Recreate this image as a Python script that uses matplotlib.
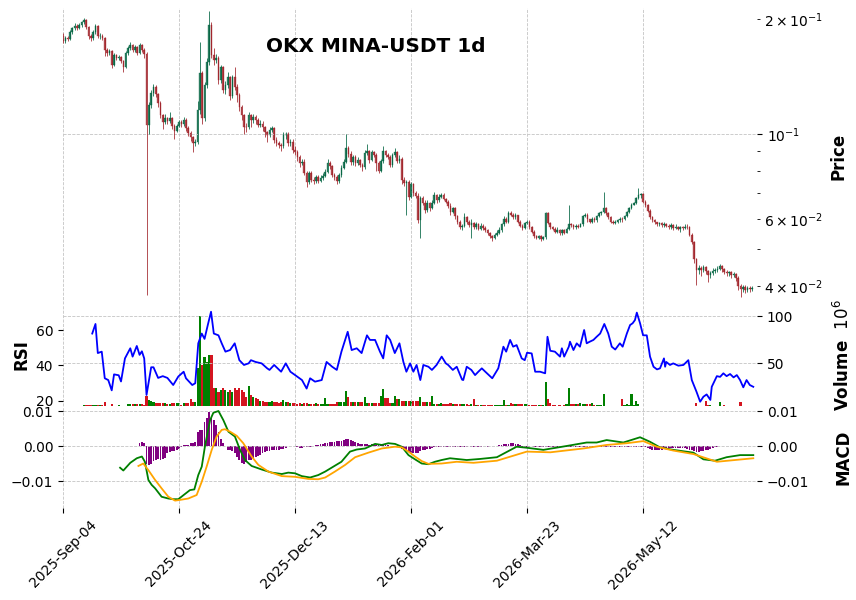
import datetime as dt
import numpy as np
import matplotlib
matplotlib.use("Agg")
import matplotlib.pyplot as plt

# ---------------- data ----------------
start_date = dt.date(2025, 9, 4)
first_open = 0.181

close = [
0.1750,0.1780,0.1770,0.1850,0.1890,0.1920,0.1890,0.1930,0.1960,0.1990,
0.1910,0.1800,0.1780,0.1850,0.1920,0.1800,0.1810,0.1780,0.1660,0.1630,
0.1650,0.1520,0.1610,0.1580,0.1590,0.1550,0.1500,0.1630,0.1680,0.1710,
0.1660,0.1690,0.1630,0.1710,0.1660,0.1620,0.1056,0.1190,0.1280,0.1330,
0.1270,0.1205,0.1120,0.1075,0.1100,0.1080,0.1100,0.1050,0.1020,0.1050,
0.1075,0.1060,0.1090,0.1037,0.1006,0.0980,0.0945,0.0955,0.1156,0.1444,
0.1100,0.1340,0.1546,0.1930,0.1610,0.1560,0.1580,0.1385,0.1497,0.1304,
0.1340,0.1410,0.1260,0.1410,0.1328,0.1265,0.1177,0.1120,0.1043,0.1040,
0.1120,0.1090,0.1105,0.1088,0.1056,0.1065,0.1040,0.1010,0.0994,0.1024,
0.1035,0.0964,0.0947,0.0936,0.0930,0.0994,0.1000,0.0947,0.0955,0.0908,
0.0897,0.0870,0.0839,0.0847,0.0791,0.0749,0.0790,0.0758,0.0752,0.0770,
0.0755,0.0768,0.0775,0.0796,0.0839,0.0825,0.0780,0.0772,0.0753,0.0780,
0.0815,0.0845,0.0919,0.0885,0.0845,0.0870,0.0840,0.0855,0.0830,0.0820,
0.0892,0.0900,0.0855,0.0895,0.0880,0.0840,0.0800,0.0850,0.0900,0.0880,
0.0870,0.0830,0.0880,0.0895,0.0850,0.0860,0.0760,0.0745,0.0750,0.0684,
0.0740,0.0700,0.0690,0.0596,0.0680,0.0660,0.0633,0.0660,0.0640,0.0660,
0.0692,0.0670,0.0685,0.0692,0.0675,0.0665,0.0648,0.0625,0.0640,0.0610,
0.0590,0.0571,0.0575,0.0606,0.0590,0.0578,0.0585,0.0570,0.0582,0.0565,
0.0575,0.0568,0.0560,0.0550,0.0540,0.0534,0.0545,0.0552,0.0560,0.0580,
0.0600,0.0590,0.0621,0.0615,0.0605,0.0612,0.0590,0.0575,0.0568,0.0585,
0.0590,0.0570,0.0555,0.0540,0.0534,0.0540,0.0532,0.0536,0.0621,0.0585,
0.0570,0.0565,0.0555,0.0562,0.0550,0.0560,0.0552,0.0565,0.0580,0.0578,
0.0570,0.0575,0.0572,0.0580,0.0610,0.0615,0.0598,0.0590,0.0600,0.0595,
0.0610,0.0620,0.0625,0.0640,0.0620,0.0605,0.0590,0.0585,0.0590,0.0595,
0.0600,0.0598,0.0610,0.0625,0.0640,0.0652,0.0660,0.0680,0.0692,0.0695,
0.0665,0.0652,0.0630,0.0606,0.0595,0.0588,0.0580,0.0585,0.0578,0.0583,
0.0575,0.0570,0.0578,0.0568,0.0572,0.0565,0.0570,0.0568,0.0572,0.0570,
0.0545,0.0520,0.0470,0.0440,0.0445,0.0440,0.0448,0.0438,0.0428,0.0432,
0.0438,0.0440,0.0444,0.0450,0.0442,0.0436,0.0432,0.0434,0.0428,0.0430,
0.0420,0.0400,0.0393,0.0398,0.0390,0.0396,0.0392,0.0395]

high = [
0.184,0.181,0.180,0.187,0.191,0.195,0.194,0.195,0.198,0.201,
0.200,0.192,0.183,0.187,0.194,0.193,0.184,0.183,0.179,0.168,
0.167,0.166,0.163,0.162,0.161,0.160,0.156,0.165,0.170,0.174,
0.172,0.171,0.170,0.173,0.172,0.168,0.164,0.121,0.130,0.135,
0.134,0.128,0.122,0.113,0.113,0.111,0.114,0.111,0.106,0.106,
0.109,0.109,0.111,0.110,0.105,0.102,0.099,0.097,0.122,0.174,
0.146,0.137,0.158,0.210,0.196,0.168,0.162,0.160,0.152,0.151,
0.138,0.145,0.142,0.143,0.150,0.135,0.128,0.119,0.113,0.107,
0.114,0.113,0.113,0.112,0.110,0.109,0.108,0.105,0.102,0.104,
0.105,0.104,0.098,0.096,0.095,0.101,0.1015,0.101,0.097,0.097,
0.093,0.091,0.088,0.086,0.086,0.080,0.080,0.080,0.077,0.078,
0.078,0.078,0.079,0.081,0.086,0.085,0.083,0.079,0.078,0.079,
0.083,0.086,0.100,0.093,0.090,0.088,0.088,0.087,0.086,0.084,
0.091,0.094,0.091,0.091,0.090,0.089,0.085,0.086,0.093,0.091,
0.089,0.088,0.089,0.092,0.090,0.088,0.087,0.077,0.076,0.076,
0.075,0.0745,0.071,0.070,0.069,0.069,0.067,0.067,0.0665,0.067,
0.0705,0.0695,0.0695,0.070,0.070,0.068,0.067,0.066,0.0645,0.0645,
0.0615,0.0595,0.058,0.062,0.061,0.0595,0.060,0.059,0.059,0.0585,
0.0585,0.058,0.0575,0.0565,0.0555,0.0545,0.055,0.056,0.057,0.0585,
0.061,0.0605,0.063,0.063,0.062,0.062,0.0615,0.0595,0.058,0.059,
0.0595,0.0595,0.0575,0.056,0.0545,0.0545,0.0545,0.054,0.0625,0.0625,
0.059,0.0575,0.057,0.057,0.0565,0.0565,0.0565,0.057,0.065,0.0585,
0.058,0.058,0.058,0.0585,0.0615,0.062,0.062,0.060,0.0605,0.0605,
0.0615,0.0625,0.063,0.0705,0.0645,0.0625,0.061,0.0595,0.0595,0.060,
0.0605,0.0605,0.0615,0.063,0.0645,0.066,0.0665,0.0685,0.0722,0.070,
0.070,0.067,0.0655,0.0635,0.061,0.060,0.059,0.059,0.059,0.059,
0.0585,0.058,0.0585,0.058,0.058,0.0575,0.0575,0.0575,0.058,0.058,
0.0575,0.055,0.0525,0.0475,0.0455,0.045,0.0455,0.0452,0.044,0.0438,
0.0445,0.0445,0.045,0.0458,0.0455,0.0447,0.044,0.0438,0.0437,0.0435,
0.0432,0.0425,0.0405,0.0403,0.0402,0.040,0.040,0.0399]

low = [
0.173,0.173,0.175,0.176,0.183,0.187,0.187,0.188,0.191,0.194,
0.188,0.177,0.175,0.176,0.183,0.178,0.177,0.176,0.160,0.160,
0.161,0.149,0.151,0.156,0.156,0.153,0.145,0.149,0.161,0.166,
0.164,0.164,0.161,0.162,0.164,0.158,0.0379,0.100,0.117,0.126,
0.125,0.118,0.110,0.103,0.106,0.106,0.107,0.103,0.097,0.101,
0.104,0.104,0.105,0.102,0.099,0.096,0.0897,0.093,0.094,0.113,
0.106,0.108,0.132,0.152,0.158,0.152,0.153,0.135,0.136,0.128,
0.127,0.132,0.123,0.124,0.130,0.121,0.115,0.109,0.100,0.101,
0.103,0.104,0.107,0.106,0.104,0.104,0.102,0.098,0.0955,0.098,
0.101,0.095,0.093,0.092,0.090,0.092,0.097,0.093,0.093,0.089,
0.088,0.085,0.082,0.083,0.078,0.0725,0.074,0.075,0.074,0.0745,
0.0745,0.075,0.076,0.077,0.079,0.081,0.077,0.076,0.074,0.0745,
0.077,0.081,0.084,0.087,0.083,0.083,0.0825,0.083,0.082,0.080,
0.081,0.088,0.084,0.085,0.087,0.080,0.079,0.0795,0.084,0.087,
0.086,0.082,0.082,0.087,0.084,0.084,0.074,0.073,0.0614,0.067,
0.068,0.069,0.068,0.0585,0.0534,0.065,0.062,0.0625,0.063,0.0635,
0.0655,0.066,0.0665,0.068,0.067,0.066,0.064,0.0615,0.062,0.060,
0.058,0.0565,0.056,0.057,0.058,0.057,0.0535,0.0565,0.0565,0.056,
0.056,0.056,0.0555,0.0545,0.0535,0.0525,0.053,0.054,0.0548,0.0555,
0.0575,0.0585,0.0585,0.061,0.060,0.060,0.0585,0.057,0.056,0.0565,
0.058,0.0565,0.055,0.0535,0.053,0.053,0.0525,0.0528,0.053,0.058,
0.0565,0.056,0.055,0.055,0.0545,0.0545,0.0548,0.055,0.056,0.057,
0.0565,0.0565,0.0568,0.057,0.0575,0.0605,0.059,0.0585,0.0585,0.059,
0.059,0.0605,0.0615,0.062,0.0615,0.060,0.0585,0.058,0.058,0.0585,
0.059,0.059,0.0595,0.0605,0.062,0.0635,0.065,0.0655,0.0675,0.068,
0.066,0.0645,0.0625,0.060,0.059,0.058,0.0575,0.0575,0.057,0.057,
0.057,0.0565,0.0565,0.056,0.0565,0.056,0.0555,0.056,0.0565,0.0565,
0.054,0.0515,0.046,0.0403,0.043,0.0425,0.0435,0.043,0.041,0.042,
0.0428,0.0432,0.0435,0.044,0.0435,0.043,0.0425,0.0426,0.042,0.0422,
0.0412,0.039,0.0374,0.0385,0.0383,0.0385,0.0386,0.0387]

# volume in millions
volume_m = [
3,3,3,3,3,3,3,3,3,5,
5,5,5,5,5,5,5,5,8.5,4.5,
4.5,6.4,4,4,5.5,4,4,4,6.5,6.5,
6.5,6.5,6.5,6.5,6.5,5,15,10.6,10,8,
7.8,7.8,7.8,7.8,7.8,6.4,6.4,7,7,7,
7,5,7.5,7.5,7.5,11.3,8,9,44.7,100,
47.9,56.7,51.4,58.5,58.5,23.9,23,19.5,21,23,
21,19.5,21,19.5,23,21,23,21,19,14,
26,16,14,12.4,11.3,10,10,9,8.5,8.5,
10,9,8,7.5,8,10.6,9,8,7,7,
7,6.5,7,6,7,7.5,6.5,6,6,7,
6,6.5,6,12.4,6,6,6,6,8,8,
8,8,20,13.5,8,9,8,9,8,8,
13.5,7,7,7,7,7,7,15,22,13,
13,7,7,15,12,12,10,10,10,10,
10,10,10,10,13.5,8,8,8,8,15,
6.5,6.5,6,7,6,6.5,6,7,6,6.5,
6,6.5,6,6,6,5,6,11.7,5,5,
5,5,5,5,5,5,5,5,5,5,
10.6,5,5,7.8,6.4,6.4,6.4,6.4,6.4,6.4,
6.4,5,5,5,5,5,5,5,30,11.7,
7.8,5,5,3,5,3,5,6.4,23,6,
6,6,6,7.8,6,6,6,6,7.8,5,
5,5,5,16.7,4.5,4.5,4.5,4.5,4.5,4.5,
4.5,11.7,5,6.4,5,16.7,5,9.6,6.4,3,
3,3,3,3,3,3,3,3,3,3,
3,4.6,3,3,3,3,4.6,3,3,3,
3,3,3,7,4.5,4.5,4.5,10,4.8,4.8,
3,3,3,8.5,4.5,4.8,3,3,3,3,
3,3,8.5,4.5,4.5,4.5,4.5,4.5]

rsi_idx = [12.6,14,15,16.7,18,19.5,21,22,24,25,26.7,29,30,31.8,33,34,35,36,38,39,41,43,45,47.5,49.7,52,53,55.7,57,58.3,59.8,61,62.4,63.8,65,67,68.4,70,72,74,76,78,80,81,83,85.6,88,89,91,94,96,98,100,103,105,106.5,108.6,111.5,113.6,116,118,120,122.7,124.4,126.6,128.7,131,132.3,134.5,136.6,138,139.5,141,143,145,146.7,148,149.6,151,152.4,154,155.3,157.5,159,161,163.2,165,166,168,169.7,172,172.5,174,176,177.6,179,180.5,182,185,187.6,189.8,191,192.7,194,195.5,197.7,199,200,202,203.5,205.6,207.8,208.8,210,212,214.2,215,216,218,218.5,220,221.4,222.8,224.6,225.7,227,228.6,230,231.5,233.3,235,236.5,238,240,241.2,243,244.4,245.5,246.5,247.3,248.7,250,251.6,253,254.5,256,257.3,259,259.5,260,261.6,263,265.2,267.4,269.5,271,273,274.6,276,277.4,279,279.6,281.8,283.2,284.6,286,287.5,289,290.4,291.8,293.2,294.6,296,297.5]
rsi_val = [58,63.4,47,47.8,32.8,31.8,26,35,34.5,31,44,49.7,45,51,46,48,44,23.4,39,39,33,34,33,29,33.8,36.5,32.8,29,30,52.5,58,55,62.8,70.3,58,57,52.5,47.8,48.7,52.5,43,40.3,41.2,43,42,41.2,38.4,37.5,40.3,36.5,41.2,36.5,34.6,31.8,27,32.8,30.9,31.8,42,39.3,37.5,47.8,59,48.7,49.7,47,57,54.4,54.4,47.8,44,57,54.4,47,52.5,42,36.5,41.2,36.5,40.3,31.8,40.3,39.3,37.5,40.3,45,41.2,40.3,37.5,39.3,32,31.8,39.3,37.5,34.6,36.5,38.4,36.5,32.8,38.4,50.6,47.8,54.4,50.6,51.5,44,43,47.2,46.8,36.5,36.5,35.6,56.2,48.3,47.8,45,49.7,45,50.6,53.4,48.7,52.5,50.6,60,52.5,53.4,54.4,56.2,58,63.4,58,50.6,49,52.5,50.6,58,62.8,63.8,65.6,69.8,63.8,57,57,45,39.3,37.8,38.4,44,39.3,42,40.3,41.2,39.9,40.3,43,31.8,25.3,19.6,22.4,23.7,20.6,28,34,33.6,35.6,34,35.2,33.3,34.6,31.8,27.7,31.8,29,28]

macd_idx = [24.6,26,29,31.8,34,35.3,36.8,38.2,39.7,42.5,45.4,47.6,49.7,52,54.7,56.6,58.3,59.8,61.2,62.4,63.4,64.8,67,69.1,71.3,74.1,76.3,78.4,81.3,85.6,90,94.3,97.1,100,102.9,106.5,110,113,116.5,120,123.7,126.6,130.2,134.5,137.4,140.2,143.1,146,148.9,151.7,154.6,157.5,160.3,163.2,166.8,174,179.7,187,195.5,199.9,207,217,225.7,230,234.3,241.5,248.7,253,257.3,263,271.7,276,281,286,291.8,297.5]
macd_val = [-0.0062,-0.0070,-0.0048,-0.0035,-0.0030,-0.0045,-0.0097,-0.0111,-0.0121,-0.0145,-0.0150,-0.0152,-0.0152,-0.0140,-0.0126,-0.0124,-0.0083,-0.0059,0.0,0.0041,0.0074,0.0095,0.0100,0.0074,0.0041,0.0027,-0.0011,-0.0040,-0.0057,-0.0067,-0.0076,-0.0080,-0.0076,-0.0078,-0.0086,-0.0090,-0.0083,-0.0073,-0.0059,-0.0045,-0.0016,-0.0010,-0.0007,0.0006,0.0003,0.0008,0.0006,-0.0002,-0.0026,-0.0038,-0.0050,-0.0052,-0.0045,-0.0040,-0.0035,-0.0040,-0.0037,-0.0032,-0.0002,-0.0005,-0.0011,0.0,0.0010,0.0010,0.0017,0.0010,0.0025,0.0012,-0.0004,-0.0011,-0.0019,-0.0038,-0.0042,-0.0032,-0.0026,-0.0026]

signal_idx = [32.5,34.6,36.8,39.7,42.5,45.4,48.3,50.4,54,57.6,59.8,61.9,64.1,66.2,68.4,69.8,72,74.9,77.7,81.3,84.2,88.5,94.3,100,105.7,110,113,117.2,121.6,125.9,131.6,137.4,143.1,146,148.9,151.7,154.6,157.5,163.2,169.7,176.9,187,199.9,210,224.3,234.3,243,250.1,255.9,263,271.7,281.8,297.5]
signal_val = [-0.0057,-0.0050,-0.0069,-0.0097,-0.0121,-0.0145,-0.0156,-0.0154,-0.0150,-0.0140,-0.0102,-0.0059,-0.0011,0.0027,0.0046,0.0048,0.0041,0.0029,0.0008,-0.0030,-0.0054,-0.0073,-0.0086,-0.0088,-0.0094,-0.0095,-0.0090,-0.0073,-0.0054,-0.0032,-0.0019,-0.0007,-0.0002,-0.0004,-0.0016,-0.0030,-0.0043,-0.0051,-0.0050,-0.0045,-0.0048,-0.0042,-0.0016,-0.0018,-0.0007,0.0003,0.0008,0.0014,-0.0002,-0.0013,-0.0023,-0.0045,-0.0035]

hist_start = 33
hist = [
.001,.0012,.0008,-.005,-.0055,-.005,-.0042,
-.004,-.0038,-.004,-.0036,-.0033,-.002,-.0018,-.0015,-.0013,-.001,
-.0008,-.0003,.0002,.0003,.0003,.0008,.001,.0012,.0041,.0046,
.0046,.007,.008,.0097,.0084,.0075,.006,.004,.002,.0008,
0,-.001,-.0012,-.0015,-.002,-.003,-.004,-.0048,-.005,-.0045,
-.004,-.004,-.0035,-.003,-.0028,-.0025,-.002,-.0018,-.0015,-.0015,
-.0012,-.0012,-.001,-.001,-.0008,-.0008,-.0005,0,0,0,
0,-.0003,-.0005,-.0005,-.0004,-.0003,-.0002,-.0002,0,.0002,
.0004,.0005,.0006,.0008,.001,.0011,.0012,.0012,.0013,.0014,
.0015,.0016,.002,.002,.0018,.0015,.0012,.0009,.0007,.0006,
.0006,.0005,.0004,.0005,.0005,.0004,.0004,.0005,.0004,.0003,
.0003,.0001,0,0,-.0002,-.0004,-.0008,-.0012,-.0015,-.0018,
-.002,-.0021,-.002,-.0019,-.0015,-.0012,-.001,-.0009,-.0008,-.0005,
-.0003,-.0002,-.0002,-.0003,-.0002,-.0002,-.0003,-.0002,-.0002,-.0003,
-.0002,-.0002,-.0003,-.0002,-.0002,-.0001,-.0002,-.0002,-.0001,-.0002,
-.0002,-.0001,-.0001,-.0002,-.0001,-.0001,-.0001,0,.0002,.0003,
.0005,.0006,.0007,.0008,.0008,.0007,.0005,.0003,-.0002,-.0003,
-.0003,-.0002,-.0001,-.0002,-.0002,-.0003,-.0002,-.0002,-.0003,-.0002,
-.0002,-.0003,-.0002,-.0002,-.0003,-.0002,-.0002,-.0003,-.0002,-.0002,
-.0003,-.0002,-.0002,-.0003,-.0002,-.0002,-.0003,-.0002,-.0002,-.0003,
-.0002,-.0002,-.0003,-.0002,-.0002,-.0003,-.0002,-.0002,-.0003,-.0002,
-.0002,-.0003,-.0002,-.0002,-.0003,-.0002,-.0002,-.0003,-.0002,-.0002,
-.0002,-.0003,-.0005,-.0008,-.001,-.0012,-.0012,-.0011,-.001,-.0009,
-.0008,-.0007,-.0007,-.0007,-.0007,-.0007,-.0007,-.0007,-.0007,-.0008,
-.001,-.0012,-.0014,-.0016,-.0016,-.0015,-.0014,-.0012,-.001,-.0008,
-.0006,-.0004,-.0003,-.0001,-.0001,.0001,-.0001,-.0001,.0001,-.0001,
-.0001,.0001,-.0001,-.0001,.0001,-.0001,-.0001,-.0001]

tick_step = 50

# ---------------- figure ----------------
n = len(close)
x = np.arange(n)
c = np.array(close)
o = np.array([first_open] + close[:-1])
hi = np.maximum(np.array(high), np.maximum(o, c))
lo = np.minimum(np.array(low), np.minimum(o, c))
up = c >= o

UP, DN = "#006340", "#A02128"
VUP, VDN = "#008000", "#d41520"
GRID = dict(linestyle="--", color="#c4c4c4", linewidth=0.6)

fig = plt.figure(figsize=(8.56, 6.0), dpi=100)
L, W = 63 / 856, 694 / 856


def rect(top, bot):
    return [L, 1 - bot / 600, W, (bot - top) / 600]


ax_p = fig.add_axes(rect(8, 304))
ax_v = fig.add_axes(rect(304, 406), sharex=ax_p)
ax_m = fig.add_axes(rect(406, 508), sharex=ax_p)

# --- price panel ---
ccol = np.where(up, UP, DN)
ax_p.vlines(x, lo, hi, colors=ccol, linewidth=0.7, alpha=0.8)
bot = np.minimum(o, c)
top = np.maximum(o, c)
ax_p.bar(x, top - bot, bottom=bot, width=0.7, color=ccol, edgecolor=ccol,
         linewidth=0.3, alpha=0.8)
ax_p.set_yscale("log")
ax_p.set_ylim(0.03589, 0.2137)
ax_p.yaxis.tick_right()
ax_p.yaxis.set_label_position("right")
ax_p.set_ylabel("Price", fontsize=12, fontweight="bold", labelpad=4)
ax_p.grid(True, which="major", **GRID)
ax_p.tick_params(axis="x", bottom=False, labelbottom=False)

# --- volume + RSI panel ---
vcol = np.where(up, VUP, VDN)
ax_v.bar(x, volume_m, width=0.9, color=vcol)
ax_v.grid(True, **GRID)

ax_r = ax_v.twinx()
ax_r.plot(rsi_idx, rsi_val, color="blue", linewidth=1.3)
ax_r.set_ylim(17.18, 74.65)
ax_r.set_yticks([20, 40, 60])
ax_r.yaxis.tick_left()
ax_r.yaxis.set_label_position("left")
ax_r.set_ylabel("RSI", fontsize=12, fontweight="bold")
ax_r.tick_params(axis="x", bottom=False, labelbottom=False)

ax_v.set_ylim(4.26, 112.8)
ax_v.set_yticks([50, 100])
ax_v.yaxis.tick_right()
ax_v.yaxis.set_label_position("right")
ax_v.set_ylabel("Volume  $10^{6}$", fontsize=12, fontweight="bold", labelpad=29)
ax_v.tick_params(axis="x", bottom=False, labelbottom=False)

# --- MACD panel ---
hx = np.arange(hist_start, hist_start + len(hist))
ax_m.bar(hx, hist, width=0.8, color="purple")
ax_m.plot(macd_idx, macd_val, color="green", linewidth=1.3)
ax_m.plot(signal_idx, signal_val, color="orange", linewidth=1.3)
ax_m.set_ylim(-0.01771, 0.01143)
ax_m.set_yticks([-0.01, 0.0, 0.01])
ax_m.tick_params(axis="y", left=True, right=True, labelleft=True, labelright=True)
ax_m.yaxis.set_label_position("right")
ax_m.set_ylabel("MACD", fontsize=12, fontweight="bold", labelpad=18)
ax_m.grid(True, **GRID)

ticks = list(range(0, n, tick_step))
labels = [(start_date + dt.timedelta(days=t)).strftime("%Y-%b-%d") for t in ticks]
ax_m.set_xticks(ticks)
ax_m.set_xticklabels(labels, rotation=45, ha="center")
ax_m.set_xlim(0, 299.1)

for a in (ax_p, ax_v, ax_r, ax_m):
    for s in a.spines.values():
        s.set_visible(False)

fig.text(375.5 / 856, 1 - 47 / 600, "OKX MINA-USDT 1d", ha="center", va="center",
         fontsize=14.4, fontweight="bold")

fig.savefig("out.png", dpi=100)
